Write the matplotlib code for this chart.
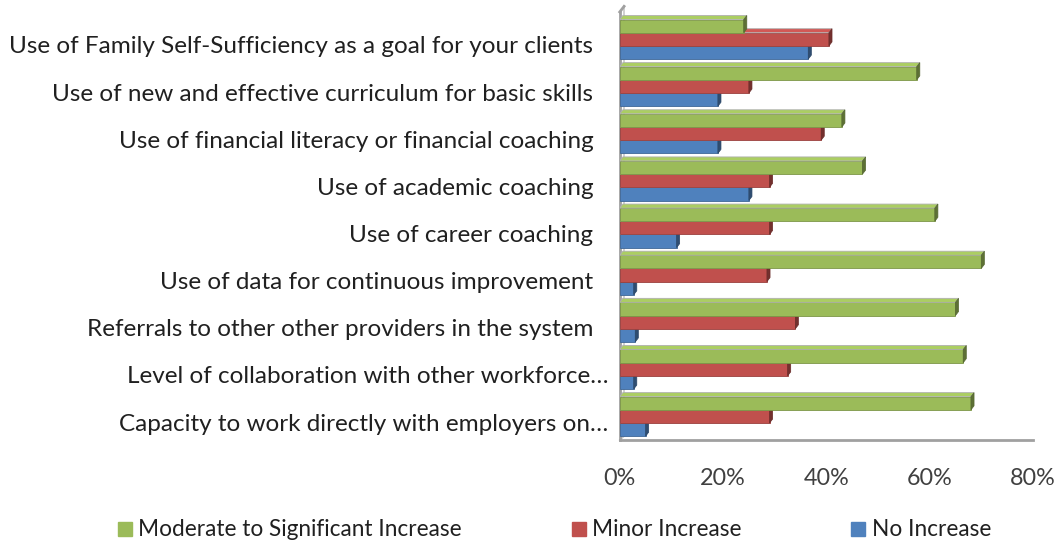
import numpy as np
import matplotlib.pyplot as plt
from matplotlib.patches import Polygon
from matplotlib.lines import Line2D
import matplotlib.colors as mcolors
from matplotlib.transforms import ScaledTranslation

# ---------------------------
# Datos
# ---------------------------
categorias = [
    "Use of Family Self-Sufficiency as a goal for your clients",
    "Use of new and effective curriculum for basic skills",
    "Use of financial literacy or financial coaching",
    "Use of academic coaching",
    "Use of career coaching",
    "Use of data for continuous improvement",
    "Referrals to other other providers in the system",
    "Level of collaboration with other workforce\u2026",
    "Capacity to work directly with employers on\u2026",
]
moderate = [24, 57.5, 43, 47, 61, 70, 65, 66.5, 68]
minor = [40.5, 25, 39, 29, 29, 28.5, 34, 32.5, 29]
no_increase = [36.5, 19, 19, 25, 11, 2.7, 3, 2.7, 5]

series = ["Moderate to Significant Increase", "Minor Increase", "No Increase"]
colores = ["#9BBB59", "#C0504D", "#4F81BD"]
xticks = [0, 20, 40, 60, 80]

plt.rcParams['font.family'] = ['Lato', 'DejaVu Sans']

fig = plt.figure(figsize=(10.54, 5.44), dpi=100)
ax = fig.add_axes([0.588, 0.191, 0.392, 0.787])

n = len(categorias)
pos = np.arange(n)[::-1]
h = 0.28
shift = 0.12
dx, dy = 0.6, 0.085


def bar3d(y, w, color):
    c = np.array(mcolors.to_rgb(color))
    ax.barh(y, w, height=h, left=0, color=color, edgecolor=c * 0.8, linewidth=0.6, zorder=3)
    top = Polygon([[0, y + h / 2], [w, y + h / 2], [w + dx, y + h / 2 + dy], [dx, y + h / 2 + dy]],
                  closed=True, facecolor=np.clip(c * 1.1, 0, 1), edgecolor='#b0b0b0', linewidth=0.6, zorder=3)
    side = Polygon([[w, y - h / 2], [w + dx, y - h / 2 + dy], [w + dx, y + h / 2 + dy], [w, y + h / 2]],
                   closed=True, facecolor=c * 0.6, edgecolor=c * 0.55, linewidth=0.5, zorder=3)
    ax.add_patch(top)
    ax.add_patch(side)


# dibujar de abajo hacia arriba para que las caras superiores queden bien
for i in range(n):
    y0 = pos[i] + shift
    bar3d(y0 - h, no_increase[i], colores[2])
    bar3d(y0, minor[i], colores[1])
    bar3d(y0 + h, moderate[i], colores[0])

ax.set_xlim(0, 80)
ax.set_ylim(-0.382, 8.70)
ax.set_xticks(xticks)
ax.set_xticklabels([f"{t}%" for t in xticks], fontsize=16.8, color='#404040')
ax.set_yticks(pos)
ax.set_yticklabels(categorias, fontsize=17.5, color='#202020')
ax.tick_params(axis='x', length=0, pad=20)
ax.tick_params(axis='y', length=0, pad=19)

# las etiquetas truncadas sobresalen un poco (como en Excel)
for lab in ax.get_yticklabels():
    if lab.get_text().endswith('\u2026'):
        lab.set_transform(lab.get_transform() + ScaledTranslation(0.15, 0, fig.dpi_scale_trans))

for s in ['top', 'right']:
    ax.spines[s].set_visible(False)
for s in ['left', 'bottom']:
    ax.spines[s].set_color('#a0a0a0')
    ax.spines[s].set_linewidth(2)

# paredes 3D
ax.plot([0, dx * 1.4], [8.70, 8.70 + dy * 1.4], color='#a0a0a0', lw=2, clip_on=False, zorder=4)
ax.plot([dx * 1.4, dx * 1.4], [-0.382 + dy, 8.70 + dy * 1.4], color='#c8c8c8', lw=1.2, clip_on=False, zorder=1)
ax.plot([0, dx * 1.4], [-0.382, -0.382 + dy], color='#c8c8c8', lw=1.2, clip_on=False, zorder=1)

handles = [Line2D([], [], marker='s', linestyle='none', markersize=9.5, color=c) for c in colores]
fig.legend(handles, series, loc='center left', bbox_to_anchor=(118 / 1054, 1 - 530 / 544), ncol=3,
           frameon=False, fontsize=16.3, handlelength=0.6, handletextpad=0.3, columnspacing=4.85,
           borderpad=0, borderaxespad=0, labelcolor='#202020')

fig.savefig('out.png', dpi=100)
